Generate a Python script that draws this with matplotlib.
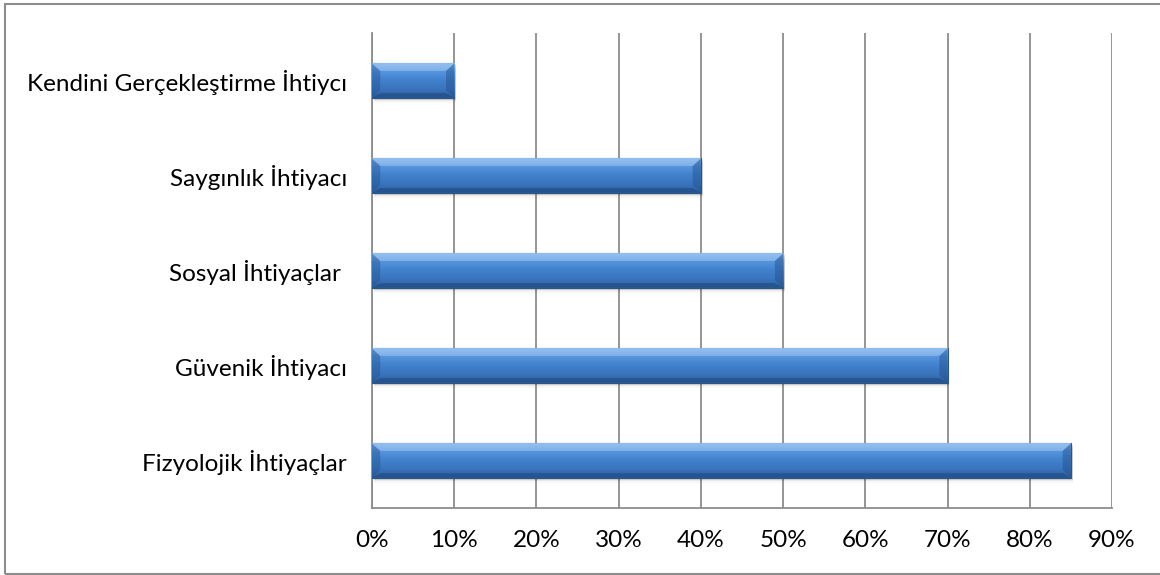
import matplotlib.pyplot as plt
import numpy as np
from matplotlib.colors import LinearSegmentedColormap
from matplotlib.patches import Polygon, Rectangle

plt.rcParams["font.family"] = ["Lato", "DejaVu Sans"]

categories = [
    "Fizyolojik İhtiyaçlar",
    "Güvenik İhtiyacı",
    "Sosyal İhtiyaçlar ",
    "Saygınlık İhtiyacı",
    "Kendini Gerçekleştirme İhtiycı",
]
values = [85, 70, 50, 40, 10]
tick_values = [0, 10, 20, 30, 40, 50, 60, 70, 80, 90]
tick_labels = [f"{t}%" for t in tick_values]

BAR_H = 0.36
BEVEL = 1.0  # end-cap width in % units

fig = plt.figure(figsize=(11.6, 5.75), dpi=100)
ax = fig.add_axes([372 / 1160, 1 - 508 / 575, 740 / 1160, 475 / 575])

# outer frame around the chart
fig.patches.append(Rectangle((5 / 1160, 1 / 575), 1.0, 570 / 575, transform=fig.transFigure,
                             fill=False, edgecolor="#8c8c8c", linewidth=1.5))

y = np.arange(len(categories))
grad = LinearSegmentedColormap.from_list(
    "bar", ["#2d5f9c", "#3a74bd", "#4080cc", "#5593dc", "#86b6ec"])
shade = np.linspace(0, 1, 64).reshape(-1, 1)

for yi, v in zip(y, values):
    # soft shadow below the bar
    for k, a in enumerate([0.10, 0.06, 0.03]):
        ax.add_patch(Rectangle((0.2, yi - BAR_H / 2 - 0.02 - 0.02 * k), v, BAR_H,
                               color="black", alpha=a, linewidth=0, zorder=2))
    bar = ax.barh(yi, v, height=BAR_H, color="#3a78c2", zorder=3,
                  edgecolor="#2a5588", linewidth=0.8)[0]
    im = ax.imshow(shade, cmap=grad, aspect="auto", origin="lower",
                   extent=(0, v, yi - BAR_H / 2, yi + BAR_H / 2), zorder=3.5)
    im.set_clip_path(bar)
    top, bot = yi + BAR_H / 2, yi - BAR_H / 2
    inset = BAR_H * 0.22
    # left and right bevelled caps
    ax.add_patch(Polygon([(0, bot), (0, top), (BEVEL, top - inset), (BEVEL, bot + inset)],
                         closed=True, color="#1f4f8a", alpha=0.4, linewidth=0, zorder=4))
    ax.add_patch(Polygon([(v, bot), (v, top), (v - BEVEL, top - inset), (v - BEVEL, bot + inset)],
                         closed=True, color="#1f4f8a", alpha=0.45, linewidth=0, zorder=4))
    # highlight along the top edge
    ax.add_patch(Polygon([(0, top), (v, top), (v - BEVEL, top - inset), (BEVEL, top - inset)],
                         closed=True, color="#a9cdf5", alpha=0.45, linewidth=0, zorder=4))
    # darker strip along the bottom edge
    ax.add_patch(Polygon([(0, bot), (v, bot), (v - BEVEL, bot + inset * 0.6), (BEVEL, bot + inset * 0.6)],
                         closed=True, color="#1d4679", alpha=0.5, linewidth=0, zorder=4))

ax.set_xlim(0, 90)
ax.set_ylim(-0.5, len(categories) - 0.5)
ax.set_xticks(tick_values)
ax.set_xticklabels(tick_labels)
ax.set_yticks(y)
ax.set_yticklabels(categories)
ax.tick_params(axis="both", length=0, labelsize=17.5, colors="black")
ax.tick_params(axis="x", pad=16)
ax.tick_params(axis="y", pad=18)
ax.grid(axis="x", color="#8c8c8c", linewidth=1.3, zorder=1)
ax.set_axisbelow(True)
for side in ["top", "right"]:
    ax.spines[side].set_visible(False)
for side in ["left", "bottom"]:
    ax.spines[side].set_color("#8c8c8c")
    ax.spines[side].set_linewidth(1.3)

fig.savefig("out.png", dpi=100)
